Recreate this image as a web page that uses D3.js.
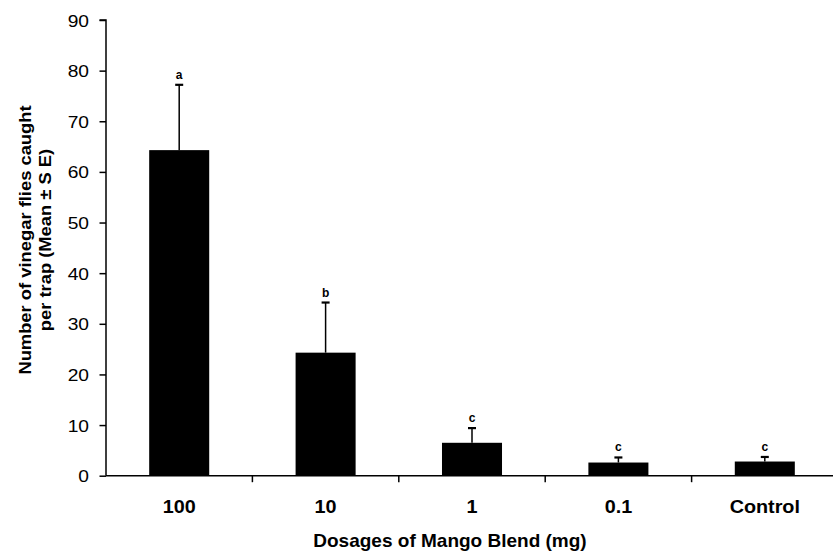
<!DOCTYPE html>
<html><head><meta charset="utf-8">
<script src="https://cdn.jsdelivr.net/npm/d3@7"></script>
<style>body{margin:0;background:#fff}svg{display:block}text{font-family:Arial,"Liberation Sans",sans-serif;fill:#000}</style>
</head><body><svg id="c" width="833" height="554"></svg>
<script>
const categories = ["100", "10", "1", "0.1", "Control"];
const means = [64.3, 24.3, 6.5, 2.6, 2.8];
const errors = [12.9, 9.9, 2.9, 1.0, 0.9];
const letters = ["a", "b", "c", "c", "c"];
const yTicks = [0, 10, 20, 30, 40, 50, 60, 70, 80, 90];

const svg = d3.select("#c");
const x = d3.scaleBand().domain(categories).range([106, 838]).paddingInner(0.59).paddingOuter(0.295);
const y = d3.scaleLinear().domain([0, 90]).range([475.7, 20]);
const cx = d => x(d) + x.bandwidth() / 2;

// bars
svg.selectAll("rect.bar").data(categories).enter().append("rect")
  .attr("x", d => x(d)).attr("width", x.bandwidth())
  .attr("y", (d, i) => y(means[i])).attr("height", (d, i) => y(0) - y(means[i]))
  .attr("fill", "#000");

// error bars
const eb = svg.selectAll("g.eb").data(categories).enter().append("g");
eb.append("line")
  .attr("x1", cx).attr("x2", cx)
  .attr("y1", (d, i) => y(means[i])).attr("y2", (d, i) => y(means[i] + errors[i]))
  .attr("stroke", "#000").attr("stroke-width", 1.5);
eb.append("line")
  .attr("x1", d => cx(d) - 4).attr("x2", d => cx(d) + 4)
  .attr("y1", (d, i) => y(means[i] + errors[i])).attr("y2", (d, i) => y(means[i] + errors[i]))
  .attr("stroke", "#000").attr("stroke-width", 2.2);
eb.append("text")
  .attr("x", cx)
  .attr("y", (d, i) => y(means[i] + errors[i]) - 6)
  .attr("text-anchor", "middle").attr("font-size", 12).attr("font-weight", "bold")
  .text((d, i) => letters[i]);

// y axis
const yAxis = svg.append("g").attr("transform", "translate(106,0)")
  .call(d3.axisLeft(y).tickValues(yTicks).tickSize(6.5).tickPadding(0).tickFormat(d3.format("d")));
yAxis.select(".domain").attr("stroke-width", 1.5).attr("d", `M-6.5,${y(90)}H0V${y(0)}`);
yAxis.selectAll(".tick line").attr("stroke-width", 1.5);
yAxis.selectAll(".tick text")
  .attr("x", null).attr("dy", null)
  .attr("transform", "translate(-17,6) scale(1.2,1)")
  .attr("font-size", 16).attr("font-family", "Arial, 'Liberation Sans', sans-serif");

// x axis
const xg = svg.append("g");
xg.append("line").attr("x1", 106).attr("x2", 838).attr("y1", y(0)).attr("y2", y(0)).attr("stroke", "#000").attr("stroke-width", 1.5);
const bounds = categories.slice(1).map(d => x(d) - x.step() * x.paddingInner() / 2);
xg.selectAll("line.t").data(bounds).enter().append("line")
  .attr("x1", d => d).attr("x2", d => d).attr("y1", y(0)).attr("y2", y(0) + 6.5)
  .attr("stroke", "#000").attr("stroke-width", 1.5);
xg.selectAll("text").data(categories).enter().append("text")
  .attr("transform", d => `translate(${cx(d)},513) scale(1.1,1)`)
  .attr("text-anchor", "middle").attr("font-size", 18).attr("font-weight", "bold")
  .text(d => d);

// titles
svg.append("text").attr("x", 450).attr("y", 547).attr("text-anchor", "middle")
  .attr("font-size", 19).attr("font-weight", "bold").text("Dosages of Mango Blend (mg)");
const yt = svg.append("text").attr("transform", "translate(0,240) rotate(-90) scale(1.08,1)")
  .attr("text-anchor", "middle").attr("font-size", 17).attr("font-weight", "bold");
yt.append("tspan").attr("x", 0).attr("y", 31).text("Number of vinegar flies caught");
yt.append("tspan").attr("x", 0).attr("y", 51).text("per trap (Mean ± S E)");
</script></body></html>
